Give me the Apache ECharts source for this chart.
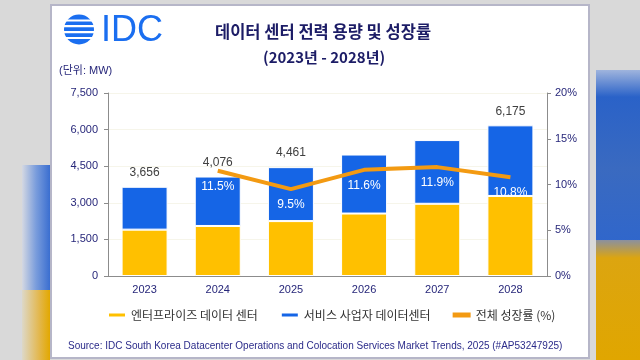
<!DOCTYPE html>
<html><head><meta charset="utf-8">
<script src="https://cdn.jsdelivr.net/npm/echarts@6/dist/echarts.min.js"></script>
<style>html,body{margin:0;padding:0;background:#d9d9d9}#c{width:640px;height:360px}</style>
</head><body><div id="c"></div>
<script>
const years = ['2023','2024','2025','2026','2027','2028'];
const enterprise = [1900, 2050, 2250, 2560, 2960, 3280];
const service = [1756, 2026, 2211, 2418, 2611, 2895];
const totalLabels = ['3,656','4,076','4,461','','','6,175'];
const growth = [null, 11.5, 9.5, 11.6, 11.9, 10.8];
const leftTicks = [0, 7500, 1500];
const rightTicks = [0, 20, 5];

const FONT = '"Liberation Sans", Arial, "Noto Sans CJK KR", sans-serif';
const KFONT = '"Noto Sans CJK KR", "Liberation Sans", sans-serif';
const NAVY = '#27277a';

const chart = echarts.init(document.getElementById('c'));
chart.setOption({
  backgroundColor: '#d9d9d9',
  animation: false,
  textStyle: {fontFamily: FONT},
  graphic: [
    {type:'rect', z:-10, shape:{x:596,y:70,width:44,height:180}, style:{fill:new echarts.graphic.LinearGradient(0,0,0,1,[{offset:0,color:'#9fb4dd'},{offset:0.15,color:'#2a62c8'},{offset:0.55,color:'#3a6ac0'},{offset:1,color:'#2f66cc'}])}},
    {type:'rect', z:-10, shape:{x:596,y:240,width:44,height:120}, style:{fill:new echarts.graphic.LinearGradient(0,0,0,1,[{offset:0,color:'#8a90a0'},{offset:0.15,color:'#dca510'},{offset:1,color:'#e0a600'}])}},
    {type:'rect', z:-10, shape:{x:22,y:165,width:28,height:125}, style:{fill:new echarts.graphic.LinearGradient(0,0,1,0,[{offset:0,color:'#d4d8e2'},{offset:0.5,color:'#7a9ddc'},{offset:1,color:'#3a6ed0'}])}},
    {type:'rect', z:-10, shape:{x:22,y:290,width:28,height:70}, style:{fill:new echarts.graphic.LinearGradient(0,0,1,0,[{offset:0,color:'#ddd8c8'},{offset:0.6,color:'#e3b850'},{offset:1,color:'#e2a800'}])}},
    {type:'rect', z:-5, shape:{x:51,y:5,width:538,height:353}, style:{fill:'#ffffff', stroke:'#b6b6c8', lineWidth:2}},
    {type:'circle', z:-4, shape:{cx:79,cy:29.5,r:15}, style:{fill:'#1a6ef0'}},
    {type:'rect', z:-3, shape:{x:62,y:19.5,width:34,height:2}, style:{fill:'#fff'}},
    {type:'rect', z:-3, shape:{x:62,y:25,width:34,height:2.2}, style:{fill:'#fff'}},
    {type:'rect', z:-3, shape:{x:62,y:31,width:34,height:2.2}, style:{fill:'#fff'}},
    {type:'rect', z:-3, shape:{x:62,y:37,width:34,height:2}, style:{fill:'#fff'}},
    {type:'text', z:-3, left:101, top:13, style:{text:'IDC', fill:'#1a6ef0', font:'36px "Liberation Sans", Arial, sans-serif'}},
    {type:'text', z:1, left:215, top:23, style:{text:'데이터 센터 전력 용량 및 성장률', fill:'#1c1c66', font:'bold 16.5px '+KFONT}},
    {type:'text', z:1, left:263, top:50, style:{text:'(2023년 - 2028년)', fill:'#1c1c66', font:'bold 15px '+KFONT}},
    {type:'text', z:1, left:59, top:65, style:{text:'(단위: MW)', fill:NAVY, font:'11px '+FONT}},
    {type:'text', z:1, left:68, top:341, style:{text:'Source: IDC South Korea Datacenter Operations and Colocation Services Market Trends, 2025 (#AP53247925)', fill:'#2b2b8a', font:'10px '+FONT}}
  ],
  grid: {left:108, right:93, top:93, bottom:84},
  legend: {
    left: 102, top: 304, itemGap: 22, itemWidth: 18, itemHeight: 5, icon: 'rect',
    textStyle: {fontFamily: KFONT, fontSize: 12, color: '#333'},
    data: ['엔터프라이즈 데이터 센터','서비스 사업자 데이터센터','전체 성장률 (%)']
  },
  xAxis: {
    type:'category', data: years,
    axisLine:{lineStyle:{color:'#8c8c8c'}}, axisTick:{show:false},
    axisLabel:{color:NAVY, fontSize:11, margin:8}
  },
  yAxis: [
    {type:'value', min:leftTicks[0], max:leftTicks[1], interval:leftTicks[2],
     axisLine:{show:true, lineStyle:{color:'#8c8c8c'}}, axisTick:{show:true, length:4, lineStyle:{color:'#8c8c8c'}},
     splitLine:{show:true, lineStyle:{color:'#f6f5ea'}},
     axisLabel:{color:NAVY, fontSize:11, margin:10, formatter: v => v.toLocaleString('en-US')}},
    {type:'value', min:rightTicks[0], max:rightTicks[1], interval:rightTicks[2],
     axisLine:{show:true, lineStyle:{color:'#8c8c8c'}}, axisTick:{show:true, length:4, lineStyle:{color:'#8c8c8c'}},
     splitLine:{show:false},
     axisLabel:{color:NAVY, fontSize:11, margin:8, formatter:'{value}%'}}
  ],
  series: [
    {name:'엔터프라이즈 데이터 센터', type:'bar', stack:'t', barWidth:46, data: enterprise,
     itemStyle:{color:'#ffc000', borderColor:'#fff', borderWidth:1}},
    {name:'서비스 사업자 데이터센터', type:'bar', stack:'t', barWidth:46, data: service,
     itemStyle:{color:'#1565e6', borderColor:'#fff', borderWidth:1},
     label:{show:true, position:'top', distance:8, color:'#404040', fontSize:12,
       formatter: p => totalLabels[p.dataIndex]}},
    {name:'전체 성장률 (%)', type:'line', yAxisIndex:1, data: growth, symbol:'circle', symbolSize:0, showSymbol:true,
     lineStyle:{color:'#f39a12', width:4}, itemStyle:{color:'#f39a12'}, z:5,
     label:{show:true, position:'bottom', distance:10, color:'#ffffff', fontSize:12,
       formatter: p => p.value == null ? '' : p.value.toFixed(1)+'%'}}
  ]
});
</script></body></html>
